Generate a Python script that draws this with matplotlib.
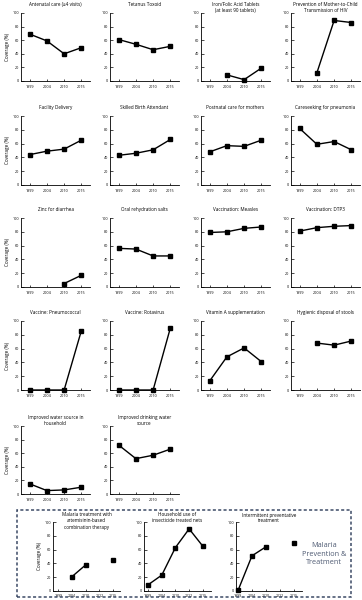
import numpy as np
import matplotlib.pyplot as plt
from matplotlib.patches import Rectangle

plt.rcParams['font.family'] = ['Open Sans', 'DejaVu Sans']

nan = np.nan
years4 = ['1999', '2004', '2010', '2015']
years5 = ['1999', '2004', '2010', '2012', '2015']

antenatal = [69, 59, 40, 49]
tetanus = [61, 54, 46, 51]
iron_folic = [nan, 9, 2, 19]
pmtct = [nan, 12, 89, 86]
facility = [44, 49, 52, 65]
skilled = [43, 46, 51, 66]
postnatal = [48, 57, 56, 65]
pneumonia_care = [82, 59, 63, 51]
zinc = [nan, nan, 5, 17]
ors = [56, 55, 45, 45]
measles = [79, 80, 85, 87]
dtp3 = [81, 86, 88, 89]
pneumococcal = [0, 0, 0, 86]
rotavirus = [0, 0, 0, 90]
vitamin_a = [13, 48, 61, 41]
stools = [nan, 68, 65, 71]
water_household = [15, 5, 6, 10]
drinking_water = [72, 52, 57, 66]
act = [nan, 21, 38, nan, 45]
itn = [9, 23, 63, 90, 65]
ipt = [1, 51, 64, nan, 70]

grid_panels = [
    ('Antenatal care (≥4 visits)', antenatal),
    ('Tetanus Toxoid', tetanus),
    ('Iron/Folic Acid Tablets\n(at least 90 tablets)', iron_folic),
    ('Prevention of Mother-to-Child\nTransmission of HIV', pmtct),
    ('Facility Delivery', facility),
    ('Skilled Birth Attendant', skilled),
    ('Postnatal care for mothers', postnatal),
    ('Careseeking for pneumonia', pneumonia_care),
    ('Zinc for diarrhea', zinc),
    ('Oral rehydration salts', ors),
    ('Vaccination: Measles', measles),
    ('Vaccination: DTP3', dtp3),
    ('Vaccine: Pneumococcal', pneumococcal),
    ('Vaccine: Rotavirus', rotavirus),
    ('Vitamin A supplementation', vitamin_a),
    ('Hygienic disposal of stools', stools),
    ('Improved water source in\nhousehold', water_household),
    ('Improved drinking water\nsource', drinking_water),
]
malaria_panels = [
    ('Malaria treatment with\nartemisinin-based\ncombination therapy', act),
    ('Household use of\ninsecticide treated nets', itn),
    ('Intermittent preventative\ntreatment', ipt),
]

W, H = 362, 600
fig = plt.figure(figsize=(W / 100, H / 100), dpi=100)
TITLE_FS = 3.3
TICK_FS = 2.7


def add_panel(box, cats, values, title, xlim, ylabel=None, title_gap=11):
    left, top, right, bottom = box
    ax = fig.add_axes([left / W, 1 - bottom / H, (right - left) / W, (bottom - top) / H])
    x = np.arange(len(cats))
    ax.plot(x, values, color='black', lw=1.0, marker='s', ms=3.2, clip_on=False, zorder=3)
    ax.set_xlim(*xlim)
    ax.set_ylim(0, 100)
    ax.set_xticks(x)
    ax.set_xticklabels(cats)
    ax.set_yticks([0, 20, 40, 60, 80, 100])
    for s in ['top', 'right']:
        ax.spines[s].set_visible(False)
    for s in ['left', 'bottom']:
        ax.spines[s].set_linewidth(0.6)
    ax.tick_params(axis='both', direction='in', length=1.8, width=0.5, labelsize=TICK_FS, pad=1.5)
    ax.tick_params(axis='x', pad=3)
    # title anchored by its top edge, a fixed distance above the axes
    fig.text((left + right) / 2 / W, 1 - (top - title_gap) / H, title, ha='center', va='top',
             fontsize=TITLE_FS, linespacing=1.25)
    if ylabel:
        ax.set_ylabel(ylabel, fontsize=TITLE_FS, labelpad=2)
    return ax


col_x = [(21, 90), (110, 179), (201, 270), (291, 360)]
row_y = [(13, 81), (116, 185), (218, 287), (321, 390), (426, 494)]

for i, (title, vals) in enumerate(grid_panels):
    r, c = divmod(i, 4)
    box = (col_x[c][0], row_y[r][0], col_x[c][1], row_y[r][1])
    add_panel(box, years4, vals, title, (-0.5, 3.5),
              ylabel='Coverage (%)' if c == 0 else None)

mal_boxes = [(53, 522, 120, 591), (144, 522, 211, 591), (236, 522, 302, 591)]
mal_xlims = [(-0.4, 4.5), (-0.3, 4.6), (-0.15, 4.6)]
for i, (title, vals) in enumerate(malaria_panels):
    ax = add_panel(mal_boxes[i], years5, vals, title, mal_xlims[i],
                   ylabel='Coverage (%)' if i == 0 else None, title_gap=9.5)
    ax.tick_params(axis='x', labelsize=2.5, pad=2)

# dashed frame around malaria section
fig.patches.append(Rectangle((17 / W, 1 - 597 / H), (351 - 17) / W, (597 - 510) / H,
                             transform=fig.transFigure, fill=False, ls=(0, (2, 1.5)),
                             lw=1.1, edgecolor='#3c4a66'))
fig.text(324 / W, 1 - 554 / H, 'Malaria\nPrevention &\nTreatment', ha='center', va='center',
         fontsize=5.2, color='#4e5a72', linespacing=1.3)

fig.savefig('out.png', dpi=100)
